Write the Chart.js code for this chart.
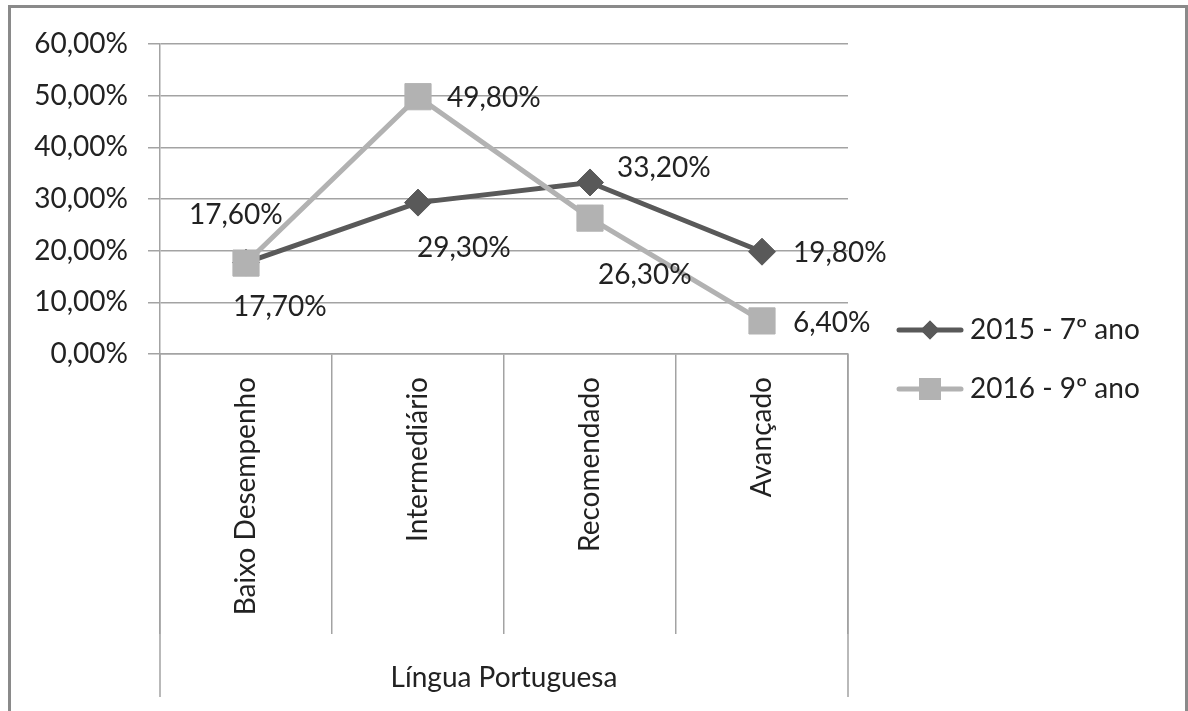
<!DOCTYPE html>
<html>
<head>
<meta charset="utf-8">
<script src="https://cdn.jsdelivr.net/npm/chart.js@4.4.1/dist/chart.umd.min.js"></script>
<style>
  html, body { margin: 0; padding: 0; background: #ffffff; }
  #wrap { width: 1188px; height: 711px; position: relative; }
</style>
</head>
<body>
<div id="wrap"><canvas id="c" width="1188" height="711"></canvas></div>
<script>
// ---- data ----
const categories = ['Baixo Desempenho', 'Intermediário', 'Recomendado', 'Avançado'];
const groupLabel = 'Língua Portuguesa';
const series2015Label = '2015 - 7º ano';
const series2015 = [17.7, 29.3, 33.2, 19.8];
const series2016Label = '2016 - 9º ano';
const series2016 = [17.6, 49.8, 26.3, 6.4];
const yTicks = [0, 10, 20, 30, 40, 50, 60];

// ---- styles ----
const FONT = 'Lato, "Open Sans", sans-serif';
const FS = 28;
const TEXT = '#222222';
const GRID = '#a3a3a3';
const DARK = '#595959';
const LIGHT = '#b2b2b2';

// label offsets (relative to each point; text left / vertical middle)
const labelOffsets2015 = [[-13, 44], [-1, 45], [27, -14], [31, 1]];
const labelOffsets2016 = [[-57, -48], [29, 1], [8, 57], [31, 2]];

const fmt = v => v.toFixed(2).replace('.', ',') + '%';

const decorPlugin = {
  id: 'decor',
  beforeDraw(chart) {
    const ctx = chart.ctx;
    ctx.save();
    ctx.fillStyle = '#ffffff';
    ctx.fillRect(0, 0, chart.width, chart.height);
    ctx.restore();
  },
  afterDraw(chart) {
    const ctx = chart.ctx;
    const ca = chart.chartArea;
    ctx.save();
    // outer chart border
    ctx.strokeStyle = '#8a8a8a';
    ctx.lineWidth = 3;
    ctx.beginPath();
    ctx.moveTo(9.5, 720);
    ctx.lineTo(9.5, 6.5);
    ctx.lineTo(1186.5, 6.5);
    ctx.lineTo(1186.5, 720);
    ctx.stroke();
    // group bracket lines
    ctx.strokeStyle = GRID;
    ctx.lineWidth = 1.5;
    ctx.beginPath();
    ctx.moveTo(ca.left, ca.bottom);
    ctx.lineTo(ca.left, 697);
    ctx.moveTo(ca.right, ca.bottom);
    ctx.lineTo(ca.right, 697);
    ctx.stroke();
    // group label
    ctx.fillStyle = TEXT;
    ctx.font = FS + 'px ' + FONT;
    ctx.textAlign = 'center';
    ctx.textBaseline = 'middle';
    ctx.fillText(groupLabel, (ca.left + ca.right) / 2, 678);

    // data labels
    ctx.textAlign = 'left';
    const offs = [labelOffsets2015, labelOffsets2016];
    chart.data.datasets.forEach((ds, di) => {
      const meta = chart.getDatasetMeta(di);
      meta.data.forEach((pt, i) => {
        const o = offs[di][i];
        ctx.fillText(fmt(ds.data[i]), pt.x + o[0], pt.y + o[1]);
      });
    });

    // legend
    const items = [
      { label: series2015Label, color: DARK, style: 'rectRot', r: 9.5, y: 330 },
      { label: series2016Label, color: LIGHT, style: 'rect', r: 15.5, y: 389 }
    ];
    items.forEach(it => {
      ctx.strokeStyle = it.color;
      ctx.lineWidth = 5;
      ctx.lineCap = 'round';
      ctx.beginPath();
      ctx.moveTo(899, it.y);
      ctx.lineTo(961, it.y);
      ctx.stroke();
      ctx.fillStyle = it.color;
      Chart.helpers.drawPoint(ctx, { pointStyle: it.style, radius: it.r, borderWidth: 0, rotation: 0 }, 930, it.y);
      ctx.fill();
      ctx.fillStyle = TEXT;
      ctx.textAlign = 'left';
      ctx.textBaseline = 'middle';
      ctx.fillText(it.label, 970, it.y);
    });
    ctx.restore();
  }
};

new Chart(document.getElementById('c'), {
  type: 'line',
  data: {
    labels: categories,
    datasets: [
      {
        label: series2015Label,
        data: series2015,
        order: 1,
        borderColor: DARK,
        backgroundColor: DARK,
        borderWidth: 5,
        pointStyle: 'rectRot',
        pointRadius: 13.5,
        pointBorderWidth: 1,
        pointBackgroundColor: DARK,
        pointBorderColor: DARK,
        tension: 0
      },
      {
        label: series2016Label,
        data: series2016,
        order: 0,
        borderColor: LIGHT,
        backgroundColor: LIGHT,
        borderWidth: 5,
        pointStyle: 'rect',
        pointRadius: 18.5,
        pointBorderWidth: 1,
        pointBackgroundColor: LIGHT,
        pointBorderColor: LIGHT,
        tension: 0
      }
    ]
  },
  options: {
    responsive: false,
    animation: false,
    devicePixelRatio: 1,
    layout: { padding: { left: 0, right: 340, top: 44, bottom: 77 } },
    plugins: {
      legend: { display: false },
      tooltip: { enabled: false }
    },
    scales: {
      x: {
        type: 'category',
        offset: true,
        afterFit(scale) { scale.height = 280; },
        grid: {
          offset: true,
          drawOnChartArea: false,
          drawTicks: true,
          tickLength: 280,
          color: GRID,
          lineWidth: 1.5
        },
        border: { display: true, color: GRID, width: 1.5 },
        ticks: {
          minRotation: 90,
          maxRotation: 90,
          autoSkip: false,
          padding: -257,
          color: TEXT,
          font: { family: FONT, size: FS }
        }
      },
      y: {
        min: 0,
        max: 60,
        afterFit(scale) { scale.width = 160; },
        afterBuildTicks(scale) { scale.ticks = yTicks.map(v => ({ value: v })); },
        grid: {
          color: GRID,
          lineWidth: 1.5,
          drawTicks: true,
          tickLength: 12
        },
        border: { display: true, color: GRID, width: 1.5 },
        ticks: {
          padding: 20,
          color: TEXT,
          font: { family: FONT, size: FS },
          callback: v => fmt(v)
        }
      }
    }
  },
  plugins: [decorPlugin]
});
</script>
</body>
</html>
